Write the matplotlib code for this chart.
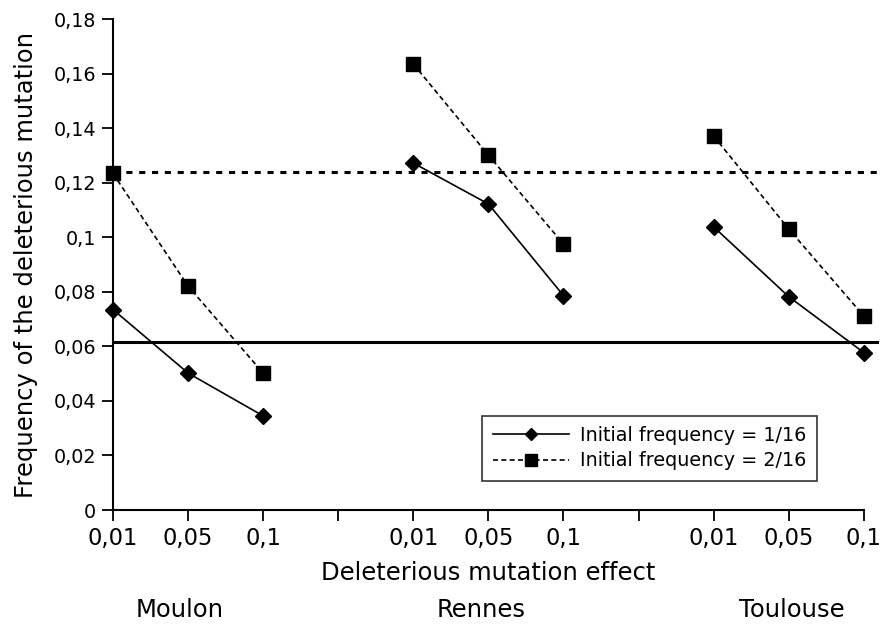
import matplotlib.pyplot as plt
import numpy as np

# deleterious mutation effect, three sites
effects = ["0,01", "0,05", "0,1"]
sites = ["Moulon", "Rennes", "Toulouse"]

freq_1_16 = {
    "Moulon": [0.0735, 0.0502, 0.0345],
    "Rennes": [0.1272, 0.1122, 0.0786],
    "Toulouse": [0.1038, 0.0782, 0.0577],
}
freq_2_16 = {
    "Moulon": [0.1234, 0.0821, 0.0502],
    "Rennes": [0.1635, 0.1301, 0.0975],
    "Toulouse": [0.1371, 0.1030, 0.0711],
}
ref_1_16 = 0.0616
ref_2_16 = 0.1239

yticks = [0, 0.02, 0.04, 0.06, 0.08, 0.1, 0.12, 0.14, 0.16, 0.18]
ytick_labels = ["0", "0,02", "0,04", "0,06", "0,08", "0,1", "0,12", "0,14", "0,16", "0,18"]

fig = plt.figure(figsize=(8.86, 6.26), dpi=100)
ax = fig.add_axes([0.1275, 0.1853, 0.8475, 0.7843])

for i, site in enumerate(sites):
    x = np.arange(3) + 4 * i
    ax.plot(x, freq_1_16[site], color="black", lw=1.2, marker="D", ms=8,
            label="Initial frequency = 1/16" if i == 0 else None, clip_on=False, zorder=3)
    ax.plot(x, freq_2_16[site], color="black", lw=1.2, ls=(0, (3, 2)), marker="s", ms=10.5,
            label="Initial frequency = 2/16" if i == 0 else None, clip_on=False, zorder=3)

ax.plot([0, 10.18], [ref_1_16, ref_1_16], color="black", lw=2.2, clip_on=False, zorder=2)
ax.plot([0, 10.18], [ref_2_16, ref_2_16], color="black", lw=2.2, ls=(0, (2, 2.2)),
        clip_on=False, zorder=2)

ax.set_xlim(0, 10)
ax.set_ylim(0, 0.18)
ax.set_yticks(yticks)
ax.set_yticklabels(ytick_labels, fontsize=13.8)
xt = np.arange(11)
xl = []
for k in xt:
    xl.append("" if k % 4 == 3 else effects[k % 4])
ax.set_xticks(xt)
ax.set_xticklabels(xl, fontsize=16.3)

for s in ["top", "right"]:
    ax.spines[s].set_visible(False)
for s in ["left", "bottom"]:
    ax.spines[s].set_linewidth(1.5)
ax.tick_params(axis="both", direction="out", length=8, width=1.3, pad=4)

ax.set_ylabel("Frequency of the deleterious mutation", fontsize=17.5, labelpad=11)
ax.set_xlabel("Deleterious mutation effect", fontsize=17.5, labelpad=8)

# site names under each group of three
for xpos, site in zip([0.89, 4.9, 9.04], sites):
    ax.text(xpos, -0.0368, site, ha="center", va="center", fontsize=17.5)

leg = ax.legend(loc="lower right", bbox_to_anchor=(0.95, 0.04), fontsize=13.8,
                markerscale=0.8, frameon=True, fancybox=False, handlelength=4.0,
                borderpad=0.55, labelspacing=0.32, handletextpad=0.55)
leg.get_frame().set_edgecolor("black")
leg.get_frame().set_linewidth(1.2)

fig.savefig("out.png", dpi=100)
